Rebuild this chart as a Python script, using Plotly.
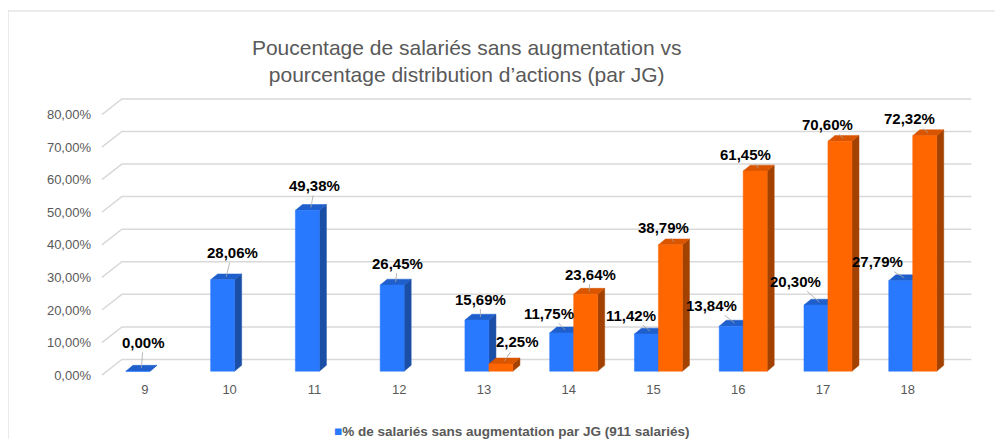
import plotly.graph_objects as go

categories = ["9", "10", "11", "12", "13", "14", "15", "16", "17", "18"]
sans_augmentation = [0.00, 28.06, 49.38, 26.45, 15.69, 11.75, 11.42, 13.84, 20.30, 27.79]
distribution_actions = [None, None, None, None, 2.25, 23.64, 38.79, 61.45, 70.60, 72.32]
y_ticks = [0, 10, 20, 30, 40, 50, 60, 70, 80]
legend_name = "% de salariés sans augmentation par JG (911 salariés)"
title_text = "Poucentage de salariés sans augmentation vs<br>pourcentage distribution d\u2019actions (par JG)"

# label offsets (pixels) for leader-line annotations
blue_off = [(2, -26), (6, -24), (4, -22), (2, -19), (0, -18), (-16, -17), (-19, -16), (-23, -18), (-24, -21), (-27, -16)]
orange_off = [None, None, None, None, (13, -19), (1, -17), (-10, -14), (-13, -14), (-16, -14), (-19, -14)]

BLUE = "#2979FF"
BASE = 1.2        # bar base lift (3D floor)
W = 0.283         # front face width (x units)
DX = 0.083        # depth x
DY = 1.8          # depth y (%)
BLUE_X0 = -0.224
ORANGE_X0 = BLUE_X0 + W

def faces(values, x0off):
    front_x, front_y, side_x, side_y, top_x, top_y = [], [], [], [], [], []
    for i, v in enumerate(values):
        if v is None:
            continue
        x0 = i + x0off
        x1 = x0 + W
        b = BASE
        t = BASE + v
        front_x += [x0, x1, x1, x0, x0, None]
        front_y += [b, b, t, t, b, None]
        side_x += [x1, x1 + DX, x1 + DX, x1, x1, None]
        side_y += [b, b + DY, t + DY, t, b, None]
        top_x += [x0, x1, x1 + DX, x0 + DX, x0, None]
        top_y += [t, t, t + DY, t + DY, t, None]
    return (front_x, front_y), (side_x, side_y), (top_x, top_y)

fig = go.Figure()

# 3D gridlines (front left end + back wall)
GX0, GX1, GX2 = -0.507, -0.271, 9.75
GDY = 4.8
gx, gy = [], []
for v in y_ticks:
    gx += [GX0, GX1, GX2, None]
    gy += [v, v + GDY, v + GDY, None]
fig.add_trace(go.Scatter(x=gx, y=gy, mode="lines", line=dict(color="#d9d9d9", width=1.5),
                         hoverinfo="skip", showlegend=False))

def add_series(values, x0off, c_front, c_side, c_top, name):
    (fx, fy), (sx, sy), (tx, ty) = faces(values, x0off)
    for (xx, yy, c) in [(sx, sy, c_side), (tx, ty, c_top), (fx, fy, c_front)]:
        fig.add_trace(go.Scatter(x=xx, y=yy, mode="lines", fill="toself", fillcolor=c, name=name,
                                 line=dict(color=c, width=0.5), hoverinfo="skip", showlegend=False))

add_series(sans_augmentation, BLUE_X0, BLUE, "#1B4FA6", "#1F5FCC", legend_name)
add_series(distribution_actions, ORANGE_X0, "#FF6600", "#A34200", "#D95500", "distribution d'actions")

# data labels with leader lines
def add_labels(values, x0off, offs):
    for i, v in enumerate(values):
        if v is None:
            continue
        ax, ay = offs[i]
        txt = f"{v:.2f}%".replace(".", ",")
        fig.add_annotation(x=i + x0off + W / 2 + DX / 2, y=BASE + v + DY / 2, text=f"<b>{txt}</b>",
                           showarrow=True, arrowhead=0, arrowwidth=0.8, arrowcolor="#a6a6a6",
                           ax=ax, ay=ay, font=dict(family="Liberation Sans, Arial", size=15, color="#000000"))

add_labels(sans_augmentation, BLUE_X0, blue_off)
add_labels(distribution_actions, ORANGE_X0, orange_off)

# legend (first series only), as text with a coloured square
fig.add_annotation(xref="paper", yref="paper", x=0.47, y=-0.179, xanchor="center", yanchor="middle",
                   showarrow=False,
                   text=f"<span style='color:{BLUE}'>\u25A0</span><b>{legend_name}</b>",
                   font=dict(size=13.5, color="#595959", family="Liberation Sans, Arial"))

# outer chart border
fig.add_shape(type="rect", xref="paper", yref="paper", x0=-0.0966, x1=1.05, y0=-0.25, y1=1.2947,
              line=dict(color="#d9d9d9", width=1), fillcolor="rgba(0,0,0,0)", layer="below")

fig.update_layout(
    width=995, height=431,
    margin=dict(l=86, r=19, t=87, b=59, autoexpand=False),
    paper_bgcolor="white", plot_bgcolor="white",
    font=dict(family="Liberation Sans, Arial", color="#595959"),
    title=dict(text=title_text, x=0.461, xanchor="center", xref="container",
               y=0.891, yanchor="middle",
               font=dict(size=21, color="#595959", family="Liberation Sans, Arial")),
    xaxis=dict(range=[-0.6, 9.9], tickmode="array", tickvals=list(range(len(categories))),
               ticktext=categories, showgrid=False, zeroline=False, showline=False,
               tickfont=dict(size=13, color="#595959"), fixedrange=True),
    yaxis=dict(range=[-1.5, 86], tickmode="array", tickvals=y_ticks,
               ticktext=[f"{v:.2f}%".replace(".", ",") for v in y_ticks],
               showgrid=False, zeroline=False, showline=False, ticklabelstandoff=2,
               tickfont=dict(size=13, color="#595959"), fixedrange=True),
    showlegend=False,
)

fig.write_html("out.html")
